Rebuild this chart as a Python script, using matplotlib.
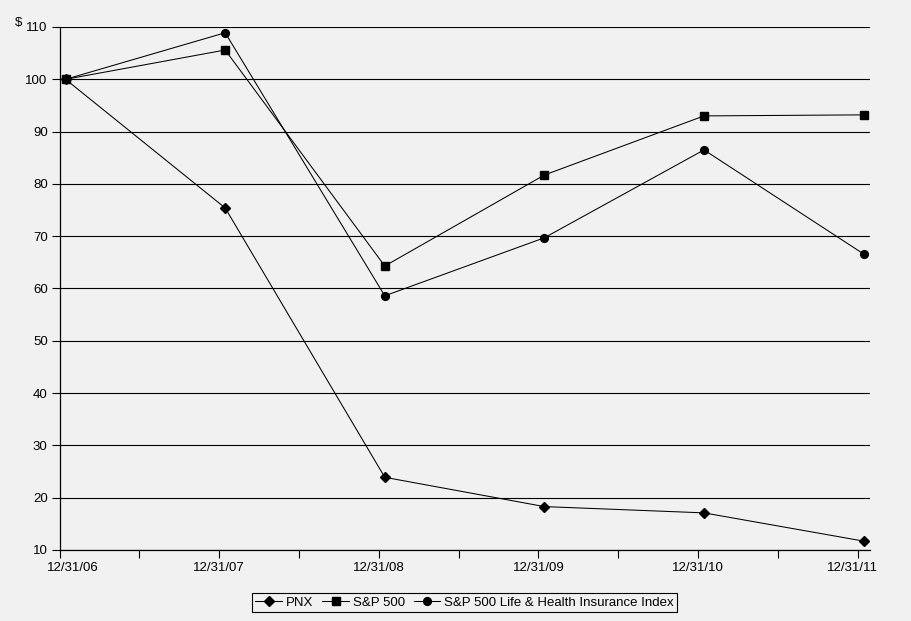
import matplotlib
matplotlib.use('Agg')
import matplotlib.pyplot as plt
import matplotlib.transforms as mtransforms
import numpy as np

plt.rcParams['font.family'] = ['Liberation Sans', 'DejaVu Sans']

dates = ['12/31/06', '12/31/07', '12/31/08', '12/31/09', '12/31/10', '12/31/11']
pnx = [100, 75.4, 23.9, 18.3, 17.1, 11.7]
sp500 = [100, 105.6, 64.3, 81.7, 93.0, 93.2]
life_health = [100, 108.9, 58.6, 69.7, 86.5, 66.6]
yticks = [10, 20, 30, 40, 50, 60, 70, 80, 90, 100, 110]

bg = '#f1f1f1'
fig = plt.figure(figsize=(9.11, 6.21), dpi=100, facecolor=bg)
ax = fig.add_axes([59.5 / 911, 71 / 621, 810.5 / 911, 523 / 621])
ax.set_facecolor(bg)

x = np.arange(len(dates))
xp = x + 0.038  # points sit a few pixels right of the ticks in the original
ax.plot(xp, pnx, color='black', lw=0.75, marker='D', ms=5.2, label='PNX')
ax.plot(xp, sp500, color='black', lw=0.75, marker='s', ms=5.2, label='S&P 500')
ax.plot(xp, life_health, color='black', lw=0.75, marker='o', ms=5.6,
        label='S&P 500 Life & Health Insurance Index')

ax.set_ylim(10, 110)
ax.set_xlim(0, 5.078)
ax.set_yticks(yticks)
ax.set_yticklabels([str(v) for v in yticks], fontsize=9.5)
ax.set_xticks(x)
ax.set_xticklabels(dates, fontsize=9.5)
ax.set_xticks(np.arange(0.5, 5.5, 1), minor=True)
ax.tick_params(axis='x', which='both', direction='out', length=5.5, width=0.8, pad=3)
ax.tick_params(axis='y', direction='out', length=5.5, width=0.8, pad=3)
ax.grid(axis='y', color='black', lw=0.8)
ax.set_axisbelow(True)
for s in ['top', 'right']:
    ax.spines[s].set_visible(False)
for s in ['left', 'bottom']:
    ax.spines[s].set_linewidth(0.9)

labels = ax.get_xticklabels()
labels[0].set_transform(labels[0].get_transform() +
                        mtransforms.ScaledTranslation(0.13, 0, fig.dpi_scale_trans))
labels[-1].set_transform(labels[-1].get_transform() +
                         mtransforms.ScaledTranslation(-0.05, 0, fig.dpi_scale_trans))

fig.text(0.016, 0.963, '$', fontsize=9.5, ha='left', va='center')

leg = ax.legend(loc='upper center', bbox_to_anchor=(0.5, -0.075), ncol=3,
                fontsize=9.5, frameon=True, fancybox=False, edgecolor='black',
                facecolor=bg, handlelength=2.0, handletextpad=0.3,
                columnspacing=0.7, borderpad=0.25, borderaxespad=0.3)
leg.get_frame().set_linewidth(0.8)
leg.get_frame().set_alpha(None)

fig.savefig('out.png', dpi=100, facecolor=bg)
